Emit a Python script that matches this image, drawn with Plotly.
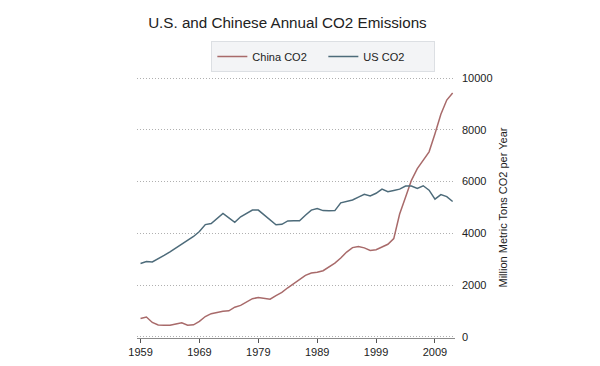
import plotly.graph_objects as go

years = list(range(1959, 2013))

china_co2 = [710, 770, 560, 460, 450, 450, 500, 550, 450, 470,
             600, 790, 900, 960, 990, 1010, 1150, 1220, 1350, 1480,
             1520, 1500, 1460, 1600, 1720, 1900, 2060, 2220, 2380, 2470,
             2500, 2560, 2700, 2850, 3050, 3280, 3450, 3490, 3440, 3340,
             3370, 3460, 3580, 3800, 4750, 5400, 6050, 6500, 6850, 7150,
             7850, 8600, 9150, 9420]

us_co2 = [2840, 2910, 2900, 3010, 3150, 3290, 3430, 3580, 3720, 3880,
          4070, 4340, 4380, 4580, 4770, 4600, 4430, 4640, 4760, 4900,
          4900, 4700, 4500, 4330, 4350, 4480, 4490, 4490, 4700, 4900,
          4960, 4880, 4870, 4880, 5180, 5250, 5290, 5400, 5510, 5450,
          5550, 5710, 5610, 5660, 5710, 5830, 5830, 5740, 5840, 5670,
          5320, 5500, 5420, 5230]

x_ticks = [1959, 1969, 1979, 1989, 1999, 2009]
y_ticks = [0, 2000, 4000, 6000, 8000, 10000]

FONT = "Liberation Sans, Arial, Helvetica, sans-serif"

fig = go.Figure()
fig.add_trace(go.Scatter(x=years, y=china_co2, mode="lines", name="China CO2",
                         line=dict(color="#a86a6a", width=1.5)))
fig.add_trace(go.Scatter(x=years, y=us_co2, mode="lines", name="US CO2",
                         line=dict(color="#4d6b7a", width=1.5)))

# the page body has an 8px default margin, so the figure is offset by 8px
fig.update_layout(
    width=592, height=358,
    margin=dict(l=129, r=145, t=69, b=28, autoexpand=False),
    paper_bgcolor="white", plot_bgcolor="white",
    font=dict(family=FONT, color="#222222"),
    title=dict(text="U.S. and Chinese Annual CO2 Emissions",
               x=0.472, xanchor="center", y=0.958, yanchor="middle",
               font=dict(size=15.2, color="#222222")),
    showlegend=True,
    legend=dict(orientation="h", x=0.586, xanchor="center", y=1.138, yanchor="top",
                bgcolor="#f3f4f6", bordercolor="#dcdfe3", borderwidth=1,
                font=dict(size=11, color="#222222"),
                itemwidth=30, entrywidth=66, entrywidthmode="pixels"),
)

fig.update_xaxes(
    range=[1958.4, 2012.4],
    tickvals=x_ticks, ticktext=[str(v) for v in x_ticks],
    showgrid=False, zeroline=False,
    showline=True, linecolor="#8a8a8a", linewidth=1,
    ticks="outside", ticklen=4, tickcolor="#555555", tickwidth=1,
    tickfont=dict(size=11, color="#222222"),
)

fig.update_yaxes(
    range=[-40, 10040], side="right",
    tickvals=y_ticks, ticktext=[str(v) for v in y_ticks],
    showgrid=True, gridcolor="#b0b0b0", griddash="1px,2px", gridwidth=1,
    zeroline=False, showline=False, ticks="", ticklabelstandoff=6,
    tickfont=dict(size=11, color="#222222"),
    title=dict(text="Million Metric Tons CO2 per Year", standoff=7,
               font=dict(size=11, color="#222222")),
)

fig.write_html("out.html")
